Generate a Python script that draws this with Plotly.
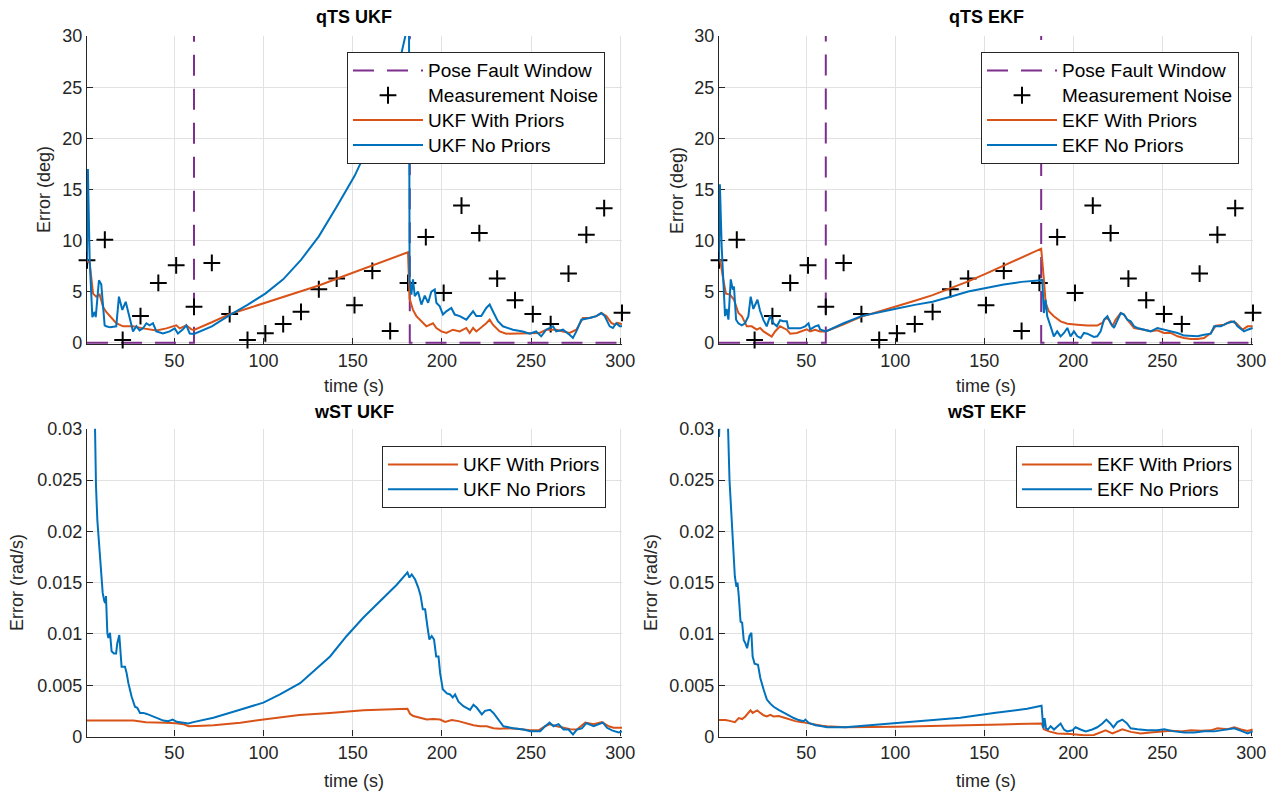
import plotly.graph_objects as go
import numpy as np

# ---------------- data ----------------
noise_t = [1, 11, 21, 31, 41, 51, 61, 71, 81, 91, 101, 111, 121, 131, 141, 151, 161, 171, 181, 191,
           201, 211, 221, 231, 241, 251, 261, 271, 281, 291, 301]
noise_v = [8.06, 10.07, 0.26, 2.6, 5.85, 7.57, 3.51, 7.8, 2.8, 0.26, 0.91, 1.82, 3.02, 5.23, 6.27, 3.67,
           7.02, 1.14, 5.85, 10.33, 4.87, 13.42, 10.72, 6.27, 4.16, 2.8, 1.82, 6.76, 10.56, 13.16, 2.92]

fault_t = [1, 61, 61, 182, 182, 301]
fault_v = [0, 0, 40, 40, 0, 0]

# qTS UKF (deg)
qukf_np_t = [1, 1.5, 2.5, 3.4, 4, 5.3, 5.9, 7.7, 9.0, 10.9, 11.8, 14, 17.4, 18.9, 20.8, 22.7, 26.8, 28.7,
             30.5, 32.4, 34.3, 36.1, 38, 39.9, 43.6, 47.4, 50.2, 52, 54.8, 56.7, 58.6, 61,
             71, 81, 91, 101, 111, 121, 131, 141, 151, 161, 171, 176, 179.5, 181.5,
             181.9, 182.9, 183.8, 184.8, 186.6, 188.5, 190.4, 192.3, 194.1, 196, 196.9, 198.8, 200.6,
             202.5, 205.3, 207.2, 210, 213.7, 217.5, 219.3, 222.1, 224.9, 226.8, 228.6, 231.4, 234.2,
             239.8, 245.4, 249.2, 252.9, 255.7, 258.5, 262.3, 264.1, 267.9, 271.6, 273.5, 275.4, 278.2,
             282.8, 286.6, 289.4, 291.3, 294.1, 295.9, 297.8, 299.7, 301]
qukf_np_v = [8, 17, 8.1, 5.2, 2.5, 3.0, 2.5, 6.1, 5.7, 1.7, 1.6, 1.5, 1.6, 4.5, 3.2, 4.0, 1.1, 1.6,
             1.2, 1.4, 1.9, 1.7, 1.9, 1.1, 0.9, 1.1, 1.4, 0.9, 1.3, 1.7, 0.9, 0.85,
             1.6, 2.7, 3.7, 4.8, 6.2, 8.1, 10.4, 13.3, 16.3, 20.0, 24.5, 27.3, 30.0, 36,
             6.2, 4.7, 6.2, 4.55, 5.0, 3.73, 4.6, 3.9, 5.0, 5.2, 3.9, 3.56, 2.75,
             3.07, 3.4, 2.75, 2.6, 2.25, 3.07, 2.6, 2.6, 3.4, 3.73, 3.07, 2.1, 1.6,
             1.27, 1.1, 0.88, 1.1, 0.62, 1.27, 1.6, 1.1, 1.27, 0.78, 0.46, 1.1, 2.25,
             2.42, 2.6, 2.9, 2.6, 1.6, 1.44, 1.9, 1.6, 1.6]
qukf_wp_t = [1, 2.5, 4.4, 6.2, 8.1, 10, 11.8, 14.6, 17.4, 21.2, 26.8, 32.4, 39.9, 45.5, 51.1, 53, 56.7,
             59.5, 61, 71, 81, 91, 101, 111, 121, 131, 141, 151, 161, 171, 181,
             181.9, 183.8, 185.7, 187.6, 191.3, 195, 196.9, 199.7, 202.5, 206.2, 210, 213.7, 215.6,
             217.5, 219.3, 224.9, 226.8, 228.6, 232.4, 236.1, 241.7, 247.3, 251.1, 254.8, 258.5,
             264.1, 267.9, 271.6, 275.4, 279.1, 282.8, 286.6, 289.4, 292.2, 295, 296.9, 298.7, 301]
qukf_wp_v = [8.0, 7.8, 4.8, 4.5, 4.7, 3.5, 3.0, 2.5, 1.9, 1.6, 1.6, 1.4, 1.2, 1.4, 1.7, 1.4, 1.7,
             1.3, 1.25, 2.0, 2.8, 3.35, 3.9, 4.45, 5.0, 5.6, 6.25, 6.9, 7.55, 8.2, 8.85,
             4.3, 3.2, 2.6, 2.25, 1.6, 1.9, 1.44, 1.1, 0.95, 1.27, 1.1, 1.44, 0.95,
             1.44, 1.1, 1.9, 2.25, 1.76, 1.1, 0.88, 0.88, 0.95, 0.88, 0.95, 1.27,
             1.27, 1.1, 0.95, 1.27, 2.42, 2.42, 2.6, 2.9, 2.6, 1.93, 1.76, 1.93, 1.8]

# qTS EKF (deg)
qekf_np_t = [1, 1.5, 2.5, 3.4, 4.4, 5.3, 6.3, 7.6, 8.7, 9.4, 10.6, 11.9, 13.8, 15.6, 17.5, 18.8, 20.3,
             22.6, 24.1, 26, 27.8, 29.7, 31.6, 33.5, 35.3, 37.2, 39.1, 40, 42.8, 46.6, 49.4, 51.3, 52.2,
             55, 56.9, 57.8, 61, 71, 81, 91, 101, 111, 121, 131, 141, 151, 161, 171, 182,
             182.6, 183.5, 184.5, 185.4, 187.3, 189.1, 191, 192.9, 194.8, 196.7, 198.5, 200.4, 202.3,
             204.2, 206, 207.9, 211.6, 213.5, 215.4, 217.3, 219.2, 221, 222.9, 224.8, 226.7, 228.5,
             230.4, 232.3, 234.2, 236, 239.8, 243.5, 247.3, 251, 254.8, 258.6, 262.3, 266, 269.8,
             273.5, 277.3, 279.2, 283, 286.7, 290.4, 292.3, 296, 298, 300.8]
qekf_np_v = [8, 15.5, 9.4, 6.2, 2.6, 3.3, 2.25, 6.2, 5.2, 5.5, 2.25, 1.9, 1.7, 1.9, 2.6, 4.5, 3.3,
             4.2, 3.1, 2.2, 1.6, 2.6, 1.9, 1.6, 2.2, 2.1, 2.1, 1.4, 1.4, 1.4, 1.6, 1.9, 1.3,
             1.6, 1.7, 1.3, 1.1, 1.9, 2.6, 3.0, 3.35, 3.7, 4.0, 4.5, 5.0, 5.35, 5.7, 5.95, 6.1,
             6.2, 2.9, 4.2, 2.58, 1.6, 0.62, 1.11, 0.62, 0.95, 1.44, 0.62, 1.11, 0.62,
             0.46, 0.95, 0.88, 0.56, 0.62, 1.11, 2.25, 2.58, 1.93, 1.44, 2.25, 2.9, 2.75,
             2.25, 2.09, 1.6, 1.44, 1.27, 1.11, 1.44, 1.27, 1.11, 0.95, 0.69, 0.62, 0.62,
             0.78, 0.88, 1.6, 1.6, 1.93, 2.09, 1.6, 1.11, 1.27, 1.44]
qekf_wp_t = [1, 1.6, 3.4, 4.9, 7.2, 9.4, 11.9, 13.8, 16.6, 19.4, 22.2, 24.1, 26, 28.8, 30.6, 32.5,
             35.3, 39.1, 41, 44.7, 47.5, 50.3, 52.2, 55, 57.8, 61, 71, 81, 91, 101, 111, 121, 131,
             141, 151, 161, 171, 182, 183.5, 184.5, 186.3, 189.1, 192.9, 196.7, 202.3, 207.9, 213.5,
             216.3, 218.2, 220.1, 222, 223.8, 226.7, 228.5, 230.4, 234.2, 239.8, 243.5, 247.3, 251,
             254.8, 258.6, 262.3, 266, 269.8, 273.5, 277.3, 280.1, 284.8, 288.6, 291.4, 295.1, 298, 300.8]
qekf_wp_v = [8, 8.1, 6.2, 4.8, 4.7, 4.2, 2.9, 2.6, 1.6, 1.6, 1.27, 1.44, 1.1, 0.78, 0.6, 1.1,
             1.6, 1.27, 0.88, 0.95, 1.1, 1.3, 1.1, 1.27, 1.1, 1.1, 1.8, 2.55, 3.05, 3.55, 4.1, 4.65, 5.3,
             6.0, 6.75, 7.55, 8.35, 9.2, 6.21, 3.89, 3.07, 2.58, 2.09, 1.86, 1.76, 1.67, 1.67,
             1.93, 2.42, 2.25, 1.6, 2.25, 2.9, 2.75, 2.25, 1.44, 1.27, 1.11, 1.21, 0.95,
             0.95, 0.62, 0.46, 0.36, 0.36, 0.46, 0.95, 1.67, 1.76, 2.09, 1.93, 1.27, 1.6, 1.6]

# wST UKF (values in 1e-3 rad/s)
wukf_np_t = [1, 3, 5.5, 6.05, 6.8, 7.9, 8.85, 9.8, 10.7, 11.3, 11.65, 12.4, 13, 13.9, 14.8, 16.1, 17.3,
             18, 19.1, 19.9, 20.4, 22.3, 23.2, 24.2, 26, 27.9, 29.2, 30.7, 32.6, 34.5, 37.3, 40.1, 43.8,
             46.6, 49.05, 51.3, 55, 57.8, 60.6, 71.9, 86.8, 99.9, 109.2, 120.5, 137.3, 146.6, 156,
             165.3, 174.7, 180.7, 181.8, 183.1, 185, 186.8, 188.1, 189.3, 190.6, 191.9, 193, 194.3,
             195.6, 196.8, 198.1, 199, 200.5, 202.8, 204.6, 206.1, 207.4, 209.3, 212.1, 215.8, 217.7,
             219.6, 222.4, 224.2, 227, 228.9, 231.7, 234.5, 240.1, 245.7, 249.5, 255.1, 257.9, 260.4,
             262.6, 265.4, 268.2, 271, 273.5, 275.7, 278.5, 281, 285.1, 287.9, 290.3, 292.6, 295.4,
             299.1, 301]
wukf_np_m = [45, 36, 30, 24.4, 21.1, 18.5, 15.9, 14.0, 13.2, 13.0, 13.7, 10.1, 9.6, 10.1, 8.3, 8.1, 8.1,
             9.1, 9.9, 8.1, 6.8, 6.8, 6.2, 5.2, 3.9, 2.9, 2.8, 2.3, 2.3, 2.2, 2.0, 1.75, 1.55,
             1.5, 1.65, 1.43, 1.33, 1.26, 1.4, 1.82, 2.6, 3.3, 4.1, 5.2, 7.8, 9.8, 11.6,
             13.2, 14.8, 16.0, 15.5, 15.8, 15.3, 14.5, 13.7, 12.4, 12.4, 10.7, 9.45, 9.8,
             9.45, 7.8, 7.8, 6.2, 4.6, 4.2, 4.1, 3.8, 4.1, 3.4, 2.96, 2.6, 3.1,
             2.8, 2.15, 2.5, 2.6, 2.3, 1.65, 1.0, 0.8, 0.68, 0.52, 0.52, 1.0, 1.35,
             1.0, 1.2, 0.68, 0.68, 0.2, 0.68, 0.8, 1.3, 1.0, 1.2, 1.35, 0.85, 0.6,
             0.4, 0.5]
wukf_wp_t = [1, 10, 20, 27, 34, 40, 45, 51, 55, 58, 61, 66, 72, 87, 100, 120, 137.3, 156, 180.7, 182.2,
             184, 187.8, 191.5, 195.2, 199, 201.8, 205.5, 209.3, 212.1, 217.7, 221.4, 225.2, 228.9,
             232.6, 236.4, 242, 249.5, 254.2, 257.9, 260.7, 264.5, 268.2, 272, 275.7, 280.4, 285.1,
             289.8, 293.5, 296.3, 301]
wukf_wp_m = [1.55, 1.55, 1.6, 1.55, 1.4, 1.4, 1.35, 1.3, 1.2, 1.0, 1.0, 1.05, 1.1, 1.35, 1.65, 2.1, 2.3,
             2.55, 2.7, 2.2, 2.0, 1.8, 1.65, 1.7, 1.65, 1.42, 1.6, 1.5, 1.35, 1.1, 1.0, 1.0, 0.8,
             0.75, 0.8, 0.75, 0.6, 0.6, 1.0, 1.2, 1.0, 0.85, 0.7, 0.68, 1.35, 1.2, 1.4, 1.0, 0.85, 0.85]

# wST EKF (values in 1e-3 rad/s)
wekf_np_t = [1, 2, 4, 6.1, 6.9, 8.0, 9.0, 9.9, 10.8, 11.4, 12.1, 13.1, 14, 14.9, 15.8, 16.8, 18.1, 19.2,
             19.9, 21, 22.9, 24.2, 26.1, 27.9, 29.8, 31.7, 34.5, 37.3, 40.2, 43, 45.8, 48.6, 49.5, 51.4,
             55.2, 58.9, 61.7, 72, 90.8, 109.6, 120.8, 136.6, 155.4, 174.1, 182.2, 183.2, 183.9, 184.7,
             185.8, 187.3, 189.2, 191, 192.9, 194.8, 196.6, 199.5, 201.3, 204.1, 207, 210.7, 213.5,
             216.4, 218.6, 220.7, 222.6, 224.8, 227.6, 230.1, 232.3, 236.1, 241.7, 247.3, 251.1, 256.7,
             262.4, 268, 273.6, 279.3, 284.9, 290.5, 294.3, 298, 300.8]
wekf_np_m = [29.2, 34, 33, 30, 25, 21.1, 17.9, 15.6, 14.6, 15.0, 13.7, 11.2, 11.1, 9.4, 9.1, 8.6, 9.8, 10.1,
             7.8, 7.1, 7.0, 5.7, 4.56, 3.6, 3.2, 2.9, 2.6, 2.3, 2.07, 1.8, 1.6, 1.5, 1.65, 1.33,
             1.1, 1.0, 0.9, 0.9, 1.15, 1.4, 1.55, 1.82, 2.3, 2.7, 3.0, 0.8, 1.8, 0.8,
             0.68, 1.0, 0.68, 1.0, 1.27, 0.68, 0.5, 0.6, 0.9, 0.68, 0.5, 0.68, 0.9,
             1.27, 1.65, 1.3, 0.9, 1.4, 1.65, 1.3, 0.8, 0.7, 0.6, 0.6, 0.7, 0.5,
             0.4, 0.4, 0.5, 0.5, 0.68, 0.8, 0.55, 0.3, 0.5]
wekf_wp_t = [1, 4.7, 7.6, 9.9, 12.1, 14, 15.8, 17.4, 18.7, 19.9, 22.5, 24.2, 26.1, 27.9, 29.8, 31.7, 34.5,
             37.3, 40.2, 43.9, 47.6, 51.4, 55.2, 58.9, 61.7, 72, 100, 120.8, 136.6, 160, 182.2, 183.5,
             186.4, 191, 198.5, 206, 211.6, 215.4, 218.2, 222, 227.6, 232.3, 237.9, 243.5, 249.2, 254.8,
             260.4, 266.1, 271.7, 277.3, 281.1, 286.7, 290.5, 294.3, 298, 300.8]
wekf_wp_m = [1.6, 1.6, 1.5, 1.4, 1.8, 1.7, 1.95, 2.3, 2.55, 2.3, 2.55, 2.3, 2.07, 1.95, 2.1, 1.95, 2.0,
             1.85, 1.7, 1.5, 1.4, 1.27, 1.15, 1.05, 1.0, 0.9, 0.95, 1.05, 1.08, 1.18, 1.27, 0.7,
             0.5, 0.3, 0.25, 0.13, 0.15, 0.4, 0.6, 0.3, 0.7, 0.45, 0.3, 0.4, 0.5, 0.55,
             0.5, 0.6, 0.55, 0.6, 0.8, 0.7, 0.9, 0.68, 0.55, 0.68]

x_ticks = [50, 100, 150, 200, 250, 300]
q_ticks = [0, 5, 10, 15, 20, 25, 30]
w_ticks = [0, 0.005, 0.01, 0.015, 0.02, 0.025, 0.03]
w_ticktext = ["0", "0.005", "0.01", "0.015", "0.02", "0.025", "0.03"]

# ---------------- styling ----------------
ORANGE = "#D95319"
BLUE = "#0072BD"
PURPLE = "#7E2F8E"
AXC = "#262626"
GRID = "#e1e1e1"
FONT = "Liberation Sans, Arial, sans-serif"
FS = 18
LEG_TEXT = 19

W, H = 1277, 794
def px_x(p):
    return p / W
def px_y(p):
    return 1 - p / H

fig = go.Figure()

def legname(s):
    return '<span style="font-size:%dpx">%s</span>' % (LEG_TEXT, s)

def line(x, y, name, color, ax, leg, dash=None, scale=1.0):
    fig.add_trace(go.Scatter(
        x=x, y=(np.array(y) * scale).tolist(), name=legname(name), mode="lines",
        line=dict(color=color, width=2, dash=dash),
        xaxis="x" + ax, yaxis="y" + ax, legend=leg))

def noise(ax, leg):
    fig.add_trace(go.Scatter(
        x=noise_t, y=noise_v, name=legname("Measurement Noise"), mode="markers",
        marker=dict(symbol="cross-thin", size=12, line=dict(color="black", width=2), color="black"),
        cliponaxis=False, xaxis="x" + ax, yaxis="y" + ax, legend=leg))

# panel 1 : qTS UKF
line(fault_t, fault_v, "Pose Fault Window", PURPLE, "", "legend", dash="21px,13px")
noise("", "legend")
line(qukf_wp_t, qukf_wp_v, "UKF With Priors", ORANGE, "", "legend")
line(qukf_np_t, qukf_np_v, "UKF No Priors", BLUE, "", "legend")
# panel 2 : qTS EKF
line(fault_t, fault_v, "Pose Fault Window", PURPLE, "2", "legend2", dash="21px,13px")
noise("2", "legend2")
line(qekf_wp_t, qekf_wp_v, "EKF With Priors", ORANGE, "2", "legend2")
line(qekf_np_t, qekf_np_v, "EKF No Priors", BLUE, "2", "legend2")
# panel 3 : wST UKF
line(wukf_wp_t, wukf_wp_m, "UKF With Priors", ORANGE, "3", "legend3", scale=1e-3)
line(wukf_np_t, wukf_np_m, "UKF No Priors", BLUE, "3", "legend3", scale=1e-3)
# panel 4 : wST EKF
line(wekf_wp_t, wekf_wp_m, "EKF With Priors", ORANGE, "4", "legend4", scale=1e-3)
line(wekf_np_t, wekf_np_m, "EKF No Priors", BLUE, "4", "legend4", scale=1e-3)

left_dom = [px_x(87), px_x(622)]
right_dom = [px_x(719), px_x(1253)]
top_dom = [px_y(343.9), px_y(36.1)]
bot_dom = [px_y(736.5), px_y(428.8)]

def xax(dom, anchor):
    return dict(domain=dom, anchor=anchor, range=[1, 301], tickmode="array", tickvals=x_ticks,
                ticks="inside", ticklen=6, tickwidth=1.2, tickcolor=AXC, showline=True,
                linecolor=AXC, linewidth=1.3, showgrid=True, gridcolor=GRID, gridwidth=1,
                zeroline=False, layer="below traces", automargin=False,
                tickfont=dict(family=FONT, size=FS, color=AXC))

def yax(dom, anchor, rng, vals, text=None):
    d = dict(domain=dom, anchor=anchor, range=rng, tickmode="array", tickvals=vals,
             ticks="inside", ticklen=6, tickwidth=1.2, tickcolor=AXC, showline=True,
             linecolor=AXC, linewidth=1.3, showgrid=True, gridcolor=GRID, gridwidth=1,
             zeroline=False, layer="below traces", automargin=False,
             tickfont=dict(family=FONT, size=FS, color=AXC))
    if text:
        d["ticktext"] = text
    return d

def legend_box(xr, yt):
    return dict(x=xr, y=yt, xanchor="right", yanchor="top", bgcolor="white",
                bordercolor=AXC, borderwidth=1, font=dict(family=FONT, size=16.8, color="black"),
                tracegroupgap=0, itemwidth=70)

annotations = []
def text(x, y, s, size=FS, bold=False, angle=0, color=AXC):
    annotations.append(dict(x=x, y=y, xref="paper", yref="paper", text=("<b>%s</b>" % s) if bold else s,
                            showarrow=False, textangle=angle, xanchor="center", yanchor="middle",
                            font=dict(family=FONT, size=size, color=color)))

text(px_x(354), px_y(17), "qTS UKF", bold=True, color="black")
text(px_x(986), px_y(17), "qTS EKF", bold=True, color="black")
text(px_x(354), px_y(412), "wST UKF", bold=True, color="black")
text(px_x(986), px_y(412), "wST EKF", bold=True, color="black")
text(px_x(354), px_y(386), "time (s)")
text(px_x(986), px_y(386), "time (s)")
text(px_x(354), px_y(781), "time (s)")
text(px_x(986), px_y(781), "time (s)")
text(px_x(44), px_y(190), "Error (deg)", angle=-90)
text(px_x(677), px_y(190), "Error (deg)", angle=-90)
text(px_x(17), px_y(583), "Error (rad/s)", angle=-90)
text(px_x(651), px_y(583), "Error (rad/s)", angle=-90)

fig.update_layout(
    template="none",
    width=W, height=H, margin=dict(l=0, r=0, t=0, b=0, pad=0), autosize=False,
    paper_bgcolor="white", plot_bgcolor="white", showlegend=True,
    font=dict(family=FONT, size=FS, color=AXC),
    xaxis=xax(left_dom, "y"), yaxis=yax(top_dom, "x", [-0.12, 30], q_ticks),
    xaxis2=xax(right_dom, "y2"), yaxis2=yax(top_dom, "x2", [-0.12, 30], q_ticks),
    xaxis3=xax(left_dom, "y3"), yaxis3=yax(bot_dom, "x3", [0, 0.03], w_ticks, w_ticktext),
    xaxis4=xax(right_dom, "y4"), yaxis4=yax(bot_dom, "x4", [0, 0.03], w_ticks, w_ticktext),
    legend=legend_box(px_x(605), px_y(52)),
    legend2=legend_box(px_x(1239), px_y(52)),
    legend3=legend_box(px_x(606), px_y(446)),
    legend4=legend_box(px_x(1239), px_y(446)),
    annotations=annotations,
)

fig.write_html("out.html")
